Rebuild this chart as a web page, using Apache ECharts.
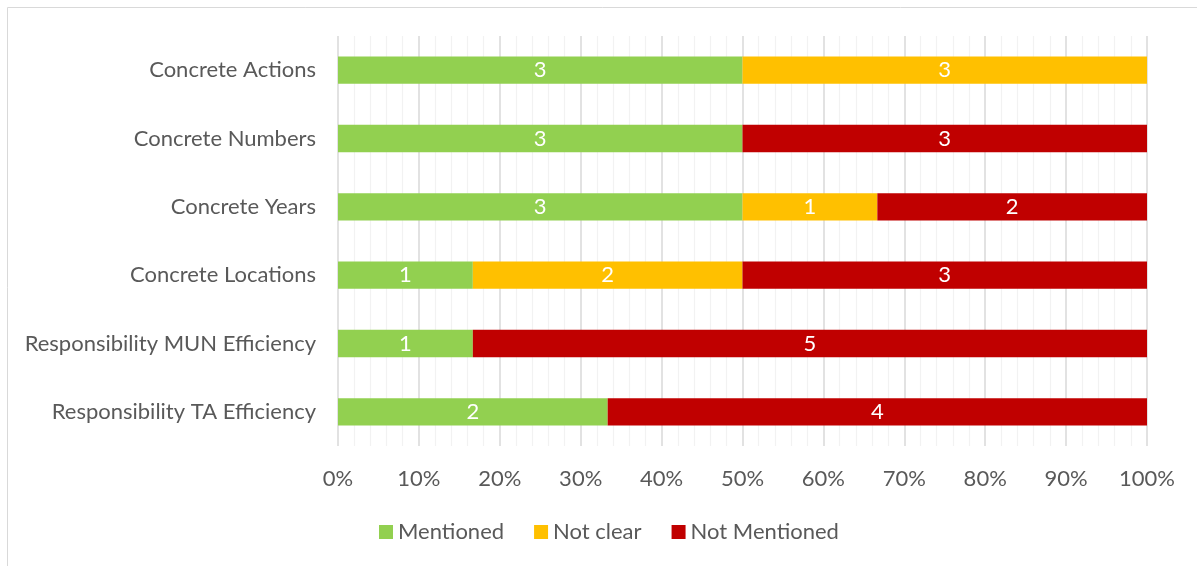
<!DOCTYPE html>
<html>
<head>
<meta charset="utf-8">
<script src="https://cdn.jsdelivr.net/npm/echarts@6/dist/echarts.min.js"></script>
<style>
  html, body { margin: 0; padding: 0; background: #fff; }
  #chart { width: 1197px; height: 566px; }
</style>
</head>
<body>
<div id="chart"></div>
<script>
// Criteria, listed top to bottom
const categories = [
  'Concrete Actions',
  'Concrete Numbers',
  'Concrete Years',
  'Concrete Locations',
  'Responsibility MUN Efficiency',
  'Responsibility TA Efficiency'
];
// Counts per criterion
const mentioned    = [3, 3, 3, 1, 1, 2];
const notClear     = [3, 0, 1, 2, 0, 0];
const notMentioned = [0, 3, 2, 3, 5, 4];
const xTickLabels = ['0%', '10%', '20%', '30%', '40%', '50%', '60%', '70%', '80%', '90%', '100%'];

const seriesDefs = [
  { name: 'Mentioned', counts: mentioned, color: '#92d050' },
  { name: 'Not clear', counts: notClear, color: '#ffc000' },
  { name: 'Not Mentioned', counts: notMentioned, color: '#c00000' }
];

const totals = categories.map((_, i) =>
  seriesDefs.reduce((s, d) => s + d.counts[i], 0));

const FONT = 'Lato';
const FS = 22;
const chart = echarts.init(document.getElementById('chart'));

chart.setOption({
  animation: false,
  textStyle: { fontFamily: FONT },
  graphic: [{
    type: 'rect',
    shape: { x: 7.5, y: 7.5, width: 1300, height: 700 },
    style: { fill: 'none', stroke: '#d9d9d9', lineWidth: 1 },
    silent: true, z: -1
  }],
  grid: { left: 338, right: 50, top: 36, bottom: 120, containLabel: false },
  legend: {
    bottom: 18,
    left: 374,
    itemWidth: 14,
    itemHeight: 14,
    itemGap: 30,
    icon: 'rect',
    textStyle: { color: '#595959', fontSize: FS, fontFamily: FONT },
    data: seriesDefs.map(d => d.name)
  },
  xAxis: {
    type: 'value',
    min: 0,
    max: 100,
    interval: 10,
    axisLine: { show: false },
    axisTick: { show: false },
    axisLabel: {
      color: '#595959', fontSize: FS, fontFamily: FONT, margin: 22,
      formatter: v => xTickLabels[Math.round(v / 10)]
    },
    splitLine: { show: true, lineStyle: { color: '#d9d9d9', width: 1.5 } },
    minorTick: { show: false, splitNumber: 5 },
    minorSplitLine: { show: true, lineStyle: { color: '#f2f2f2', width: 1.2 } }
  },
  yAxis: {
    type: 'category',
    inverse: true,
    data: categories,
    axisLine: { show: false },
    axisTick: { show: false },
    axisLabel: { color: '#595959', fontSize: FS, fontFamily: FONT, margin: 22 }
  },
  series: seriesDefs.map(d => ({
    name: d.name,
    type: 'bar',
    stack: 'share',
    barWidth: '40%',
    itemStyle: { color: d.color },
    label: {
      show: true,
      position: 'inside',
      color: '#ffffff',
      fontSize: FS,
      fontFamily: FONT,
      formatter: p => d.counts[p.dataIndex] > 0 ? String(d.counts[p.dataIndex]) : ''
    },
    data: d.counts.map((c, i) => c / totals[i] * 100)
  }))
});
</script>
</body>
</html>
